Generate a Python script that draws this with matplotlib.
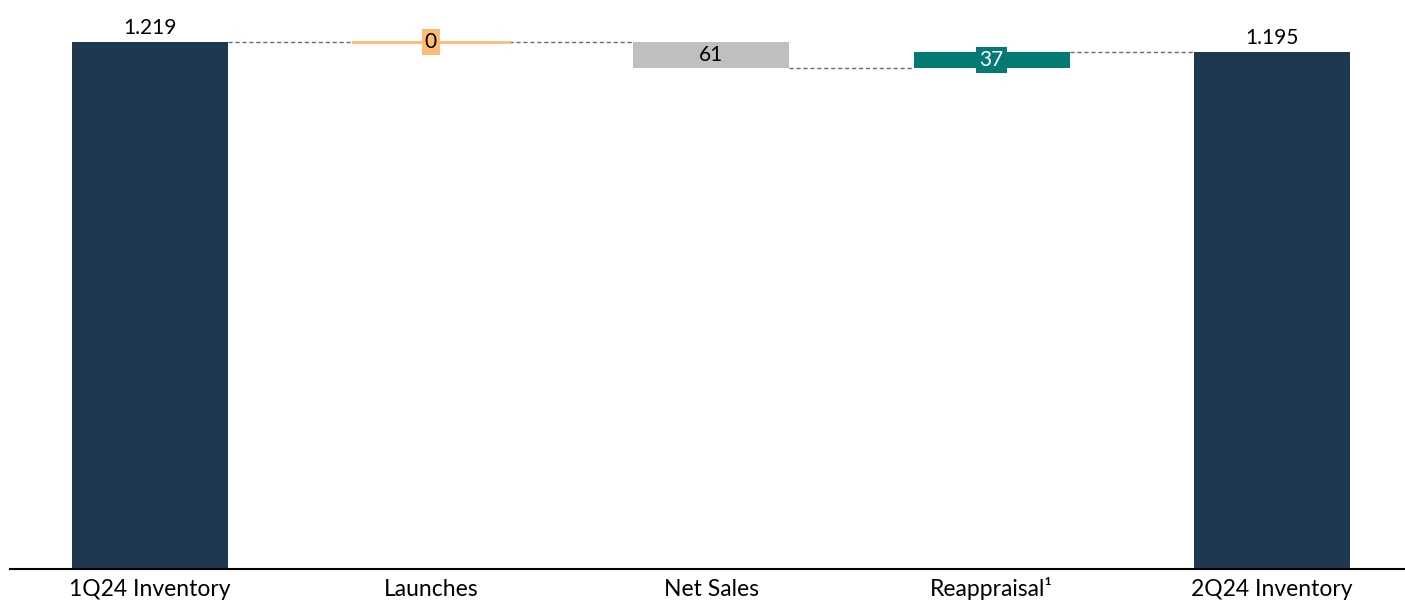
import matplotlib.pyplot as plt

# ------------------------
# Data
# ------------------------
categories = ["1Q24 Inventory", "Launches", "Net Sales", "Reappraisal\u00b9", "2Q24 Inventory"]
start_value = 1219
deltas = [0, -61, 37]
end_value = 1195
labels = ["1.219", "0", "61", "37", "1.195"]

colors = ["#1F3851", "#FDBB74", "#BFBFBF", "#037A73", "#1F3851"]
text_colors = ["black", "black", "black", "white", "black"]

plt.rcParams['font.family'] = ['Lato', 'DejaVu Sans']

# ------------------------
# Build waterfall geometry
# ------------------------
bottoms, heights, levels = [0], [start_value], [start_value]
running = start_value
for d in deltas:
    new = running + d
    bottoms.append(min(running, new))
    heights.append(abs(d))
    running = new
    levels.append(running)
bottoms.append(0)
heights.append(end_value)
levels.append(end_value)

x = list(range(len(categories)))
width = 0.556

fig = plt.figure(figsize=(14.05, 6.04), dpi=100)
ax = fig.add_axes([10 / 1405, 35 / 604, 1395 / 1405, 569 / 604])

ax.bar(x, heights, bottom=bottoms, width=width, color=colors, zorder=2)

# zero-height bar drawn as a thin line
for i, h in enumerate(heights):
    if h == 0:
        ax.plot([i - width / 2, i + width / 2], [bottoms[i], bottoms[i]],
                color=colors[i], lw=2, zorder=2)

# connectors
for i in range(len(x) - 1):
    ax.plot([i + width / 2, i + 1 - width / 2], [levels[i], levels[i]],
            color="#6b6b6b", lw=1, ls=(0, (3, 2)), zorder=1)

# labels
for i in x:
    if i in (0, len(x) - 1):
        ax.text(i, heights[i] + 10, labels[i], ha="center", va="bottom",
                fontsize=15, color="black")
    else:
        yc = bottoms[i] + heights[i] / 2
        ax.text(i, yc, labels[i], ha="center", va="center", fontsize=15,
                color=text_colors[i], zorder=3,
                bbox=dict(boxstyle="square,pad=0.15", fc=colors[i], ec="none"))

ax.set_xlim(-0.5, 4.474)
ax.set_ylim(0, 1316)
ax.set_xticks(x)
ax.set_xticklabels(categories, fontsize=16.5, va="baseline")
ax.tick_params(axis="x", length=0, pad=19.5)
ax.set_yticks([])
for s in ["top", "right", "left"]:
    ax.spines[s].set_visible(False)
ax.spines["bottom"].set_linewidth(1.5)

fig.savefig("out.png", dpi=100)
